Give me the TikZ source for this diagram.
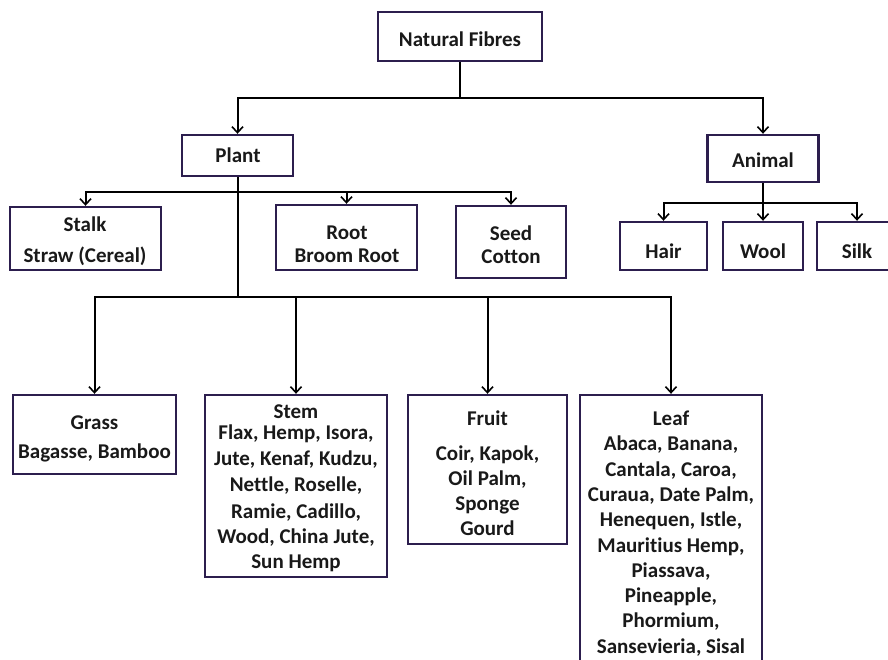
\documentclass[tikz,border=0pt]{standalone}
\usepackage{fontspec}
\setmainfont[Ligatures=NoCommon]{Carlito}
\usetikzlibrary{arrows.meta}
\definecolor{boxc}{RGB}{44,30,78}
\begin{document}
\begin{tikzpicture}[x=1pt,y=-1pt,
  box/.style={draw=boxc,line width=2.4pt,inner sep=0pt,rectangle},
  txt/.style={align=center,font=\fontsize{21}{25.3}\selectfont\bfseries,inner sep=0pt,text=black!90},
  conn/.style={line width=2pt,draw=black},
  arr/.style={conn,-{Straight Barb[length=6pt,width=11pt,line width=1.6pt]}},
  heavyarr/.style={arr,line width=2.8pt}]
\useasboundingbox (0,0) rectangle (888,659);
\fill[white] (0,0) rectangle (888,659);

% boxes
\node[box,minimum width=164pt,minimum height=49pt] (nf) at (460,36.5) {};
\node[box,minimum width=111pt,minimum height=41pt] (plant) at (237.5,155.5) {};
\node[box,minimum width=111pt,minimum height=47pt] (animal) at (763,158.5) {};
\node[box,minimum width=151pt,minimum height=63pt] (stalk) at (85.5,238.5) {};
\node[box,minimum width=141pt,minimum height=65pt] (root) at (346.5,237.5) {};
\node[box,minimum width=110pt,minimum height=72pt] (seed) at (511,242) {};
\node[box,minimum width=87pt,minimum height=48pt] (hair) at (663.5,246) {};
\node[box,minimum width=80pt,minimum height=48pt] (wool) at (763,246) {};
\node[box,minimum width=80pt,minimum height=48pt] (silk) at (857,246) {};
\node[box,minimum width=163pt,minimum height=79pt] (grass) at (94.5,434.5) {};
\node[box,minimum width=182pt,minimum height=182pt] (stem) at (296,486) {};
\node[box,minimum width=159pt,minimum height=149pt] (fruit) at (487.5,469.5) {};
\node[box,minimum width=182pt,minimum height=275pt] (leaf) at (671,532.5) {};

% texts
\node[txt] (tnf) at (460,39) {Natural Fibres};
\node[txt] (tplant) at (238,155) {Plant};
\node[txt] (tanimal) at (763,160) {Animal};
\node[txt] (tstalk) at (85,241.5) {Stalk\\[6pt]Straw (Cereal)};
\node[txt] (troot) at (347,244.5) {Root\\[-2pt]Broom Root};
\node[txt] (tseed) at (511,244.5) {Seed\\[-2pt]Cotton};
\node[txt] (thair) at (663.5,251) {Hair};
\node[txt] (twool) at (763,251) {Wool};
\node[txt] (tsilk) at (857,251) {Silk};
\node[txt] (tgrass) at (94.5,439) {Grass\\[3pt]Bagasse, Bamboo};
\node[txt] (tstem) at (296,488.5) {Stem\\[-5pt]Flax, Hemp, Isora,\\[1pt]Jute, Kenaf, Kudzu,\\[1pt]Nettle, Roselle,\\[1pt]Ramie, Cadillo,\\Wood, China Jute,\\Sun Hemp};
\node[txt] (tfruit) at (487.5,473.5) {Fruit\\[9pt]Coir, Kapok,\\Oil Palm,\\Sponge\\Gourd};
\node[txt] (tleaf) at (671,533.5) {Leaf\\Abaca, Banana,\\Cantala, Caroa,\\Curaua, Date Palm,\\Henequen, Istle,\\Mauritius Hemp,\\Piassava,\\Pineapple,\\Phormium,\\Sansevieria, Sisal};

% connectors
\coordinate (j0) at (460,98);
\draw[conn] (nf.south) -- (j0);
\draw[arr] (j0) -| (plant.north);
\draw[arr] (j0) -| (animal.north);

\coordinate (j1) at (237.5,192);
\coordinate (j2) at (237.5,297);
\draw[conn] (plant.south) -- (j2);
\draw[arr] (j1) -| (stalk.north);
\draw[arr] (j1) -| (root.north);
\draw[arr] (j1) -| (seed.north);

\coordinate (j3) at (763,203);
\draw[conn] (animal.south) -- (j3);
\draw[arr] (j3) -| (hair.north);
\draw[arr] (j3) -- (wool.north);
\draw[arr] (j3) -| (silk.north);

\draw[arr] (j2) -| (grass.north);
\draw[heavyarr] (j2) -| (stem.north);
\draw[arr] (j2) -| (fruit.north);
\draw[heavyarr] (j2) -| (leaf.north);
\end{tikzpicture}
\end{document}
